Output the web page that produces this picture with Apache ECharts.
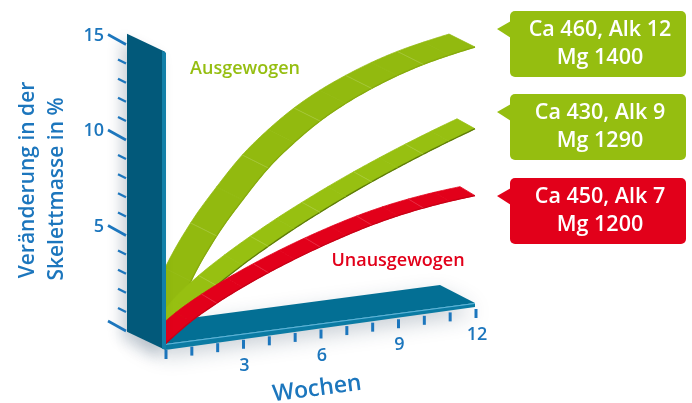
<!DOCTYPE html>
<html><head><meta charset="utf-8">
<script src="https://cdn.jsdelivr.net/npm/echarts@6/dist/echarts.min.js"></script>
<style>html,body{margin:0;padding:0;background:#fff}#c{width:692px;height:403px}</style>
</head><body><div id="c"></div>
<script>
// ---- data ----
const weeks = [0,1,2,3,4,5,6,7,8,9,10,11,12];
const balancedHigh = [0,3.1,5.3,7.0,8.5,9.65,10.6,11.35,11.95,12.45,12.85,13.15,13.4];
const balancedMid  = [0,1.6,2.7,3.6,4.4,5.14,5.82,6.46,7.06,7.62,8.15,8.65,9.12];
const unbalanced   = [0,1.0,1.78,2.44,3.02,3.54,4.01,4.43,4.8,5.1,5.33,5.5,5.62];
const xTickLabels = ['','','','3','','','6','','','9','','','12'];
const yTicks = [0,1,2,3,4,5,6,7,8,9,10,11,12,13,14,15];
const yMajorLabels = {5:'5',10:'10',15:'15'};
const calloutLine1 = ['Ca 460, Alk 12','Ca 430, Alk 9','Ca 450, Alk 7'];
const calloutLine2 = ['Mg 1400','Mg 1290','Mg 1200'];
const groupLabels = ['Ausgewogen','Unausgewogen'];
const xTitle = 'Wochen';
const yTitle = ['Veränderung in der','Skelettmasse in %'];

// ---- style / projection constants ----
const SKEW = 0.179;          // floor perspective tilt (value units per week)
const FONT = '"Open Sans", "Noto Sans", sans-serif';
const BLUE = '#1c76bd';
const GREEN = '#95be10';
const RED = '#e2001a';

function cr(p0,p1,p2,p3,t){
  const t2=t*t,t3=t2*t;
  return [0,1].map(k=>0.5*(2*p1[k]+(-p0[k]+p2[k])*t+(2*p0[k]-5*p1[k]+4*p2[k]-p3[k])*t2+(-p0[k]+3*p1[k]-3*p2[k]+p3[k])*t3));
}

function ribbon(name, values, fill, edge, depth, z){
  return {
    type:'custom', name, z, clip:false,
    data: weeks.map((w,i)=>[w, values[i]]),
    renderItem(params, api){
      const i = params.dataIndex, n = weeks.length;
      if (i >= n-1) return null;
      const P = k => { const kk=Math.max(0,Math.min(n-1,k)); return api.coord([weeks[kk], values[kk]+weeks[kk]*SKEW]); };
      const p0=P(i-1),p1=P(i),p2=P(i+1),p3=P(i+2);
      const front=[];
      const N=10;
      for(let s=0;s<=N;s++) front.push(cr(p0,p1,p2,p3,s/N));
      const back = front.slice().reverse().map(p=>[p[0]+depth[0],p[1]+depth[1]]);
      const children = [
        {type:'polygon', shape:{points:front.concat(back)}, style:{fill, stroke:fill, lineWidth:0.8}},
        {type:'polyline', shape:{points:front}, style:{stroke:edge, lineWidth:1.3, fill:null}}
      ];
      if (i>0 && i%2===0) children.push({type:'line', shape:{x1:p1[0],y1:p1[1],x2:p1[0]+depth[0],y2:p1[1]+depth[1]}, style:{stroke:'rgba(255,255,255,0.22)', lineWidth:0.7}});
      return {type:'group', children};
    }
  };
}

const floorSeries = {
  type:'custom', name:'floor', z:1, clip:false,
  data: weeks.map(w=>[w,0]),
  renderItem(params, api){
    const i = params.dataIndex, w = weeks[i];
    const children=[];
    if (i===0){
      const a = api.coord([weeks[0], 0]);
      const b = api.coord([weeks[weeks.length-1], weeks[weeks.length-1]*SKEW]);
      const D=[-35,-18];
      children.push({type:'polygon', shape:{points:[a,b,[b[0]+D[0],b[1]+D[1]],[a[0]+D[0],a[1]+D[1]]]},
        style:{fill:'#036f94', shadowBlur:22, shadowColor:'rgba(20,50,80,0.28)', shadowOffsetY:10}});
      children.push({type:'polygon', shape:{points:[a,b,[b[0],b[1]+4],[a[0],a[1]+6]]}, style:{fill:'#0b7ba3'}});
      children.push({type:'line', shape:{x1:a[0],y1:a[1]+0.5,x2:b[0],y2:b[1]+0.5}, style:{stroke:'#5db7dc', lineWidth:1}});
    }
    const p = api.coord([w, w*SKEW]);
    children.push({type:'line', shape:{x1:p[0]+1,y1:p[1]+6,x2:p[0]+1,y2:p[1]+15}, style:{stroke:BLUE, lineWidth:3}});
    if (xTickLabels[i]) children.push({type:'text', style:{text:xTickLabels[i], x:p[0]+2, y:p[1]+32, fill:BLUE,
      font:'600 18px '+FONT, align:'center', verticalAlign:'middle', textAlign:'center', textVerticalAlign:'middle'}});
    return {type:'group', children};
  }
};

const wallSeries = {
  type:'custom', name:'wall', z:10, clip:false,
  data: yTicks.map(v=>[0,v]),
  renderItem(params, api){
    const i = params.dataIndex, v = yTicks[i];
    const children=[];
    if (i===0){
      const fb = api.coord([0,-0.3]), ft = api.coord([0,15.3]);
      const D=[-38,-18];
      children.push({type:'polygon', shape:{points:[fb,ft,[ft[0]+D[0],ft[1]+D[1]],[fb[0]+D[0],fb[1]+D[1]]]},
        style:{fill:'#02597a', shadowBlur:14, shadowColor:'rgba(20,50,80,0.22)', shadowOffsetX:-6, shadowOffsetY:6}});
      children.push({type:'polygon', shape:{points:[[ft[0]-3,ft[1]-1],[ft[0]+1,ft[1]+1],[fb[0]+1,fb[1]],[fb[0]-3,fb[1]-1]]}, style:{fill:'#127fa8'}});
    }
    const c = api.coord([0,v]);
    const E = [c[0]-39, c[1]-13];
    const major = v%5===0;
    const L = major ? [-18,-10] : [-8,-4];
    children.push({type:'line', shape:{x1:E[0],y1:E[1],x2:E[0]+L[0],y2:E[1]+L[1]}, style:{stroke:BLUE, lineWidth:major?2.6:2.2}});
    if (yMajorLabels[v]) children.push({type:'text', style:{text:yMajorLabels[v], x:E[0]-22, y:E[1]-9, fill:BLUE,
      font:'600 18px '+FONT, align:'right', verticalAlign:'middle', textAlign:'right', textVerticalAlign:'middle'}});
    return {type:'group', children};
  }
};

function callout(idx, color, top){
  const h=66, left=510, w=176;
  return {type:'group', children:[
    {type:'rect', shape:{x:left,y:top,width:w,height:h,r:5}, style:{fill:color}},
    {type:'polygon', shape:{points:[[left+1,top+10],[left-13,top+18],[left+1,top+27]]}, style:{fill:color}},
    {type:'text', style:{text:calloutLine1[idx]+'\n'+calloutLine2[idx], x:left+w/2+2, y:top+h/2, fill:'#fff',
      font:'600 21.5px '+FONT, lineHeight:28, align:'center', verticalAlign:'middle', textAlign:'center', textVerticalAlign:'middle'}}
  ]};
}

const chart = echarts.init(document.getElementById('c'), null, {renderer:'canvas'});
chart.setOption({
  animation:false,
  backgroundColor:'#ffffff',
  grid:{left:165, right:217, top:57.5, bottom:59},
  xAxis:{type:'value', min:0, max:12, show:false},
  yAxis:{type:'value', min:0, max:15, show:false},
  series:[
    floorSeries,
    ribbon(calloutLine1[0], balancedHigh, '#92ba0f', '#86aa0c', [-26,-13], 3),
    ribbon(calloutLine1[1], balancedMid, '#97c011', '#5e7c08', [-18,-10], 4),
    ribbon(calloutLine1[2], unbalanced, '#e2001a', '#c80016', [-15,-9], 5),
    wallSeries
  ],
  graphic:[
    {type:'text', x:28, y:180, rotation:Math.PI/2, style:{text:yTitle[0], fill:BLUE, font:'600 21px '+FONT, align:'center', verticalAlign:'middle', textAlign:'center', textVerticalAlign:'middle'}},
    {type:'text', x:57, y:189, rotation:Math.PI/2, style:{text:yTitle[1], fill:BLUE, font:'600 21px '+FONT, align:'center', verticalAlign:'middle', textAlign:'center', textVerticalAlign:'middle'}},
    {type:'text', x:317, y:389, rotation:0.13, style:{text:xTitle, fill:BLUE, font:'600 23px '+FONT, align:'center', verticalAlign:'middle', textAlign:'center', textVerticalAlign:'middle'}},
    {type:'text', x:245, y:69, style:{text:groupLabels[0], fill:GREEN, font:'600 18px '+FONT, align:'center', verticalAlign:'middle', textAlign:'center', textVerticalAlign:'middle'}},
    {type:'text', x:398, y:261, style:{text:groupLabels[1], fill:RED, font:'600 18px '+FONT, align:'center', verticalAlign:'middle', textAlign:'center', textVerticalAlign:'middle'}},
    callout(0, GREEN, 11),
    callout(1, GREEN, 94),
    callout(2, RED, 178)
  ]
});
</script></body></html>
